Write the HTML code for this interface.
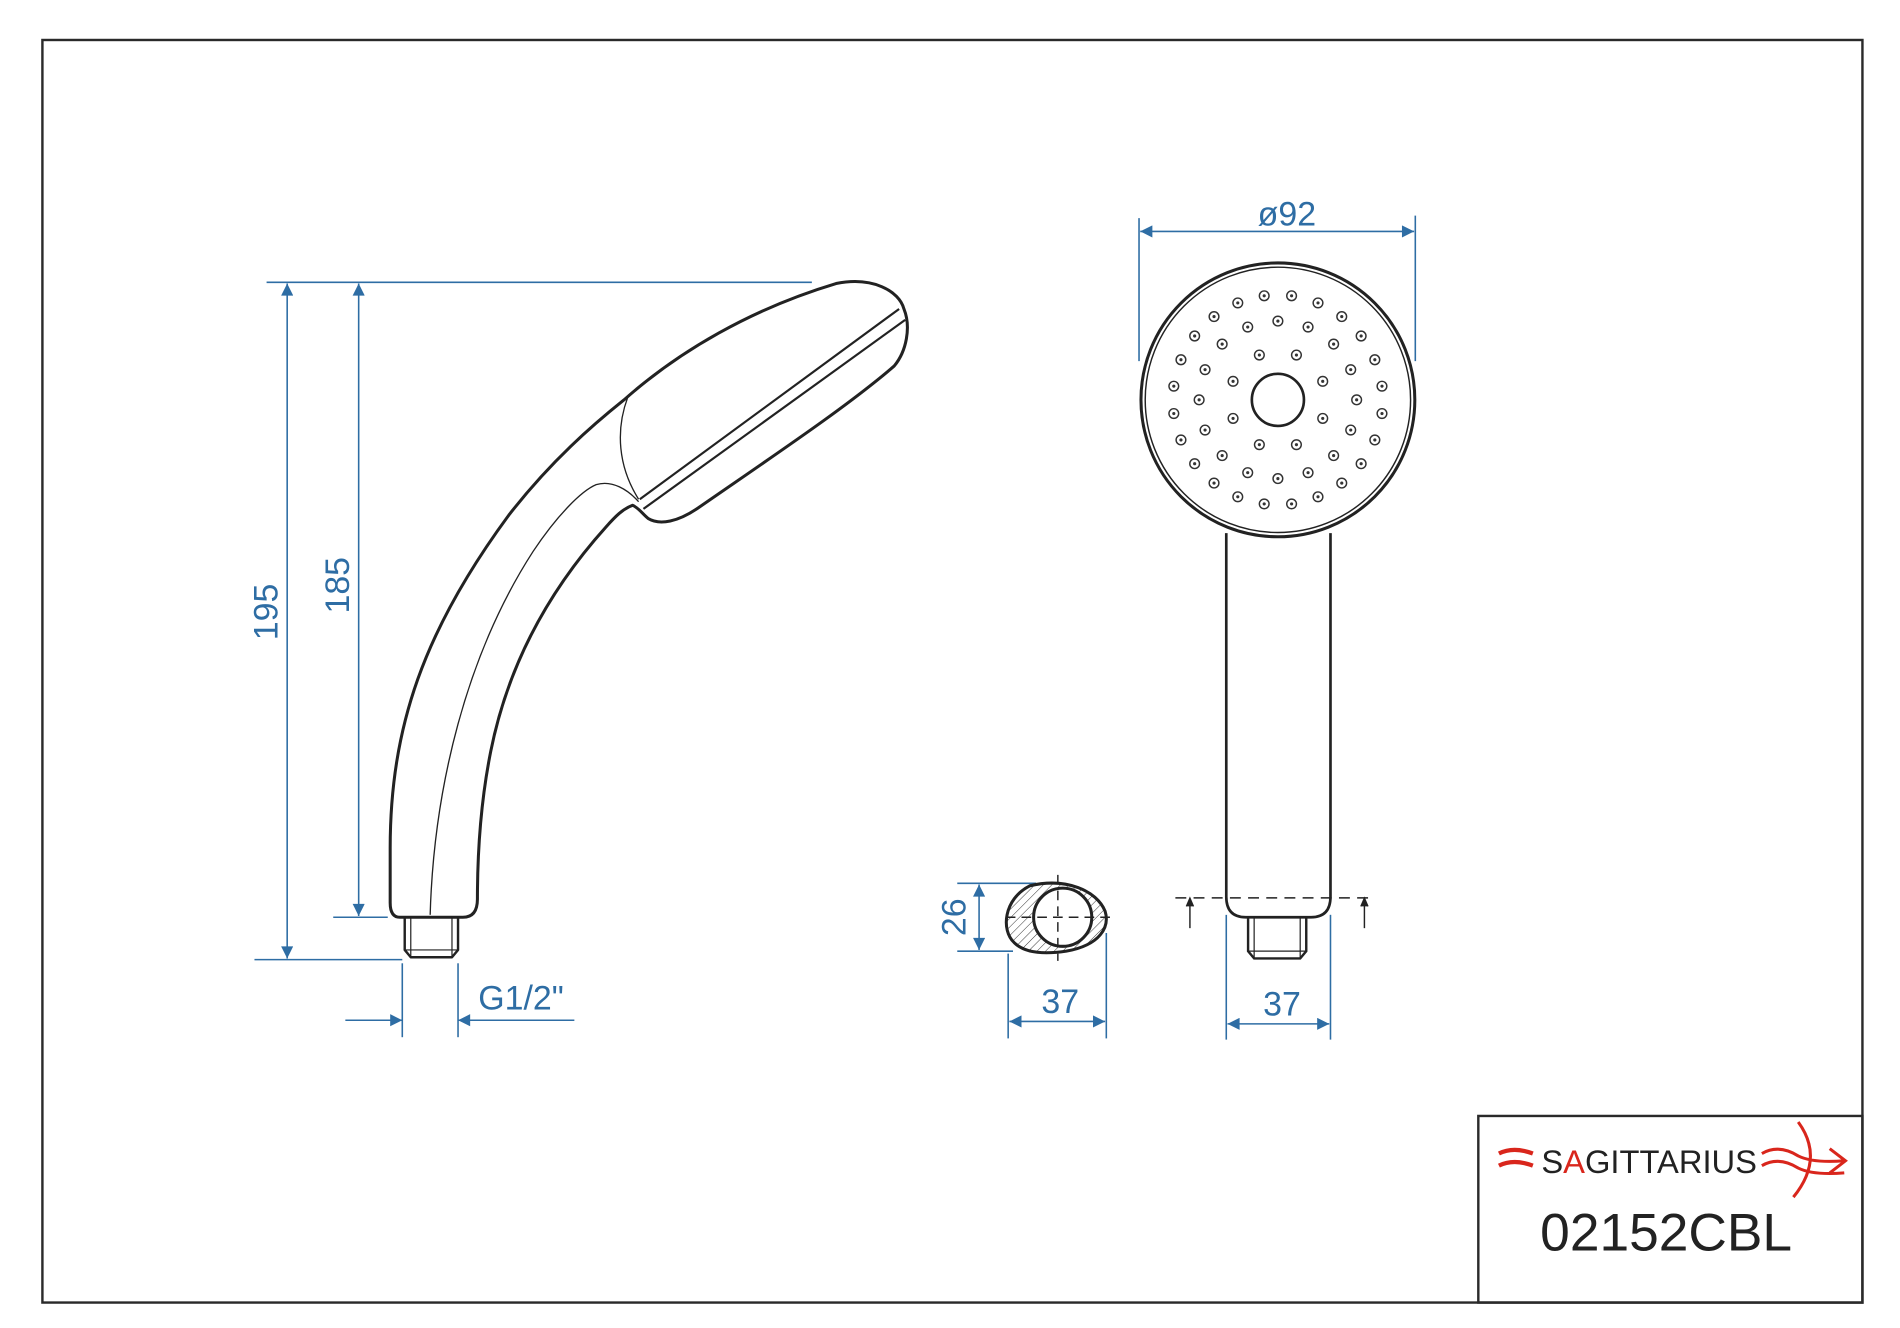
<!DOCTYPE html>
<html><head><meta charset="utf-8"><style>
html,body{margin:0;padding:0;background:#fff;}
svg{display:block;}
text{font-family:"Liberation Sans",sans-serif;}
</style></head><body>
<svg width="1900" height="1328" viewBox="0 0 1568 1096" preserveAspectRatio="none" xmlns="http://www.w3.org/2000/svg" xmlns:xlink="http://www.w3.org/1999/xlink">
<defs>
<marker id="a" viewBox="0 0 10 10" refX="10" refY="5" markerWidth="20" markerHeight="10" markerUnits="userSpaceOnUse" orient="auto-start-reverse"><path d="M0,0 L10,5 L0,10 z" fill="#2e6da4"/></marker>
<pattern id="h" width="5" height="5" patternUnits="userSpaceOnUse" patternTransform="rotate(45)"><line x1="0" y1="0" x2="0" y2="5" stroke="#333" stroke-width="0.8"/></pattern>
<g id="ho"><circle r="4" fill="none" stroke="#333" stroke-width="1.2"/><circle r="1.3" fill="#333"/></g>
</defs>
<rect x="35" y="33" width="1502" height="1042" fill="none" stroke="#2a2a2a" stroke-width="2"/>
<!-- title block -->
<rect x="1220" y="921" width="317" height="154" fill="none" stroke="#2a2a2a" stroke-width="2"/>
<text x="1272" y="968" font-size="27" fill="#222">S<tspan fill="#d9261c">A</tspan>GITTARIUS</text>
<path d="M1237,952 q12,-6 28,0 M1237,962 q12,-6 28,0" stroke="#d9261c" stroke-width="3.5" fill="none"/>
<path d="M1454,952 q14,-8 30,2 q12,6 38,4 M1454,962 q14,-8 30,2 q12,6 38,4 M1484,926 q22,30 -4,62 M1510,948 l13,10 l-13,10" stroke="#d9261c" stroke-width="2.5" fill="none"/>
<text x="1375" y="1032" font-size="44" fill="#222" text-anchor="middle">02152CBL</text>

<g stroke="#2e6da4" stroke-width="1.3" fill="none">
<line x1="220" y1="233" x2="670" y2="233"/>
<line x1="210" y1="792" x2="332" y2="792"/>
<line x1="275" y1="757" x2="320" y2="757"/>
<line x1="237" y1="234" x2="237" y2="791" marker-start="url(#a)" marker-end="url(#a)"/>
<line x1="296" y1="234" x2="296" y2="756" marker-start="url(#a)" marker-end="url(#a)"/>
<line x1="332" y1="795" x2="332" y2="856"/>
<line x1="378" y1="795" x2="378" y2="856"/>
<line x1="285" y1="842" x2="332" y2="842" marker-end="url(#a)"/>
<line x1="474" y1="842" x2="378" y2="842" marker-end="url(#a)"/>
<line x1="940" y1="180" x2="940" y2="298"/>
<line x1="1168" y1="178" x2="1168" y2="298"/>
<line x1="941" y1="191" x2="1167" y2="191" marker-start="url(#a)" marker-end="url(#a)"/>
<line x1="1012" y1="755" x2="1012" y2="858"/>
<line x1="1098" y1="755" x2="1098" y2="858"/>
<line x1="1013" y1="845" x2="1097" y2="845" marker-start="url(#a)" marker-end="url(#a)"/>
<line x1="790" y1="729" x2="855" y2="729"/>
<line x1="790" y1="785" x2="836" y2="785"/>
<line x1="808" y1="730" x2="808" y2="784" marker-start="url(#a)" marker-end="url(#a)"/>
<line x1="832" y1="787" x2="832" y2="857"/>
<line x1="913" y1="770" x2="913" y2="857"/>
<line x1="833" y1="843" x2="912" y2="843" marker-start="url(#a)" marker-end="url(#a)"/>
</g>
<g fill="#2e6da4" font-size="28">
<text x="229" y="505" text-anchor="middle" transform="rotate(-90 229 505)">195</text>
<text x="288" y="483" text-anchor="middle" transform="rotate(-90 288 483)">185</text>
<text x="430" y="833" text-anchor="middle">G1/2"</text>
<text x="1062" y="186" text-anchor="middle">ø92</text>
<text x="1058" y="838" text-anchor="middle">37</text>
<text x="875" y="836" text-anchor="middle">37</text>
<text x="797" y="757" text-anchor="middle" transform="rotate(-90 797 757)">26</text>
</g>

<g stroke="#222" stroke-width="2.5" fill="none" stroke-linejoin="round">
<path d="M330,757 Q322,757 322,745 L322,700 C322,600 350,520 420,425 C455,380 490,350 515,330 C560,290 620,255 690,234 C720,228 742,240 746,255 C752,270 748,290 738,302 C700,335 640,375 575,420 C560,430 545,434 535,428 C530,424 527,419 522,417 C514,420 508,426 500,435 C455,485 420,545 405,620 C396,665 394,710 394,742 Q394,757 382,757 Z"/>
<path d="M528,412 L742,255" stroke-width="1.8"/>
<path d="M531,420 L747,264" stroke-width="1.8"/>
<path d="M334,757 L334,784 L339,790 L373,790 L378,784 L378,757" stroke-width="2"/>
<path d="M339,757 L339,790 M373,757 L373,790 M334,784 L378,784" stroke-width="1"/>
</g>
<g stroke="#222" stroke-width="1.1" fill="none">
<path d="M355,755 C358,650 385,540 440,455 C460,425 480,405 492,400 C505,396 518,404 527,414"/>
<path d="M518,328 C508,355 510,385 527,412"/>
</g>

<g stroke="#222" fill="none">
<circle cx="1054.6" cy="330" r="113" stroke-width="2.5"/>
<circle cx="1054.6" cy="330" r="109.5" stroke-width="1.2"/>
<circle cx="1054.6" cy="330" r="21.5" stroke-width="2.2"/>
<path d="M1012,440 L1012,740 Q1012,757 1028,757 L1082,757 Q1098,757 1098,740 L1098,440" stroke-width="2.2"/>
<path d="M1030,757 L1030,785 L1035,791 L1073,791 L1078,785 L1078,757" stroke-width="2"/>
<path d="M1030,785 L1078,785 M1035,757 L1035,791 M1073,757 L1073,791" stroke-width="1"/>
<line x1="970" y1="741" x2="1130" y2="741" stroke-width="1.2" stroke-dasharray="9,6"/>
<line x1="982" y1="766" x2="982" y2="744" stroke-width="1.2"/>
<line x1="1126" y1="766" x2="1126" y2="744" stroke-width="1.2"/>
<path d="M979,748 L982,741 L985,748 M1123,748 L1126,741 L1129,748" fill="#222" stroke-width="1"/>
</g>
<g>
<use xlink:href="#ho" x="1140.5" y="341.3"/><use xlink:href="#ho" x="1140.5" y="318.7"/><use xlink:href="#ho" x="968.7" y="341.3"/><use xlink:href="#ho" x="968.7" y="318.7"/>
<use xlink:href="#ho" x="1134.6" y="363.1"/><use xlink:href="#ho" x="1134.6" y="296.9"/><use xlink:href="#ho" x="974.6" y="363.1"/><use xlink:href="#ho" x="974.6" y="296.9"/>
<use xlink:href="#ho" x="1123.3" y="382.7"/><use xlink:href="#ho" x="1123.3" y="277.3"/><use xlink:href="#ho" x="985.9" y="382.7"/><use xlink:href="#ho" x="985.9" y="277.3"/>
<use xlink:href="#ho" x="1107.3" y="398.7"/><use xlink:href="#ho" x="1107.3" y="261.3"/><use xlink:href="#ho" x="1001.9" y="398.7"/><use xlink:href="#ho" x="1001.9" y="261.3"/>
<use xlink:href="#ho" x="1087.7" y="410"/><use xlink:href="#ho" x="1087.7" y="250"/><use xlink:href="#ho" x="1021.5" y="410"/><use xlink:href="#ho" x="1021.5" y="250"/>
<use xlink:href="#ho" x="1065.9" y="415.9"/><use xlink:href="#ho" x="1065.9" y="244.1"/><use xlink:href="#ho" x="1043.3" y="415.9"/><use xlink:href="#ho" x="1043.3" y="244.1"/>
<use xlink:href="#ho" x="1119.6" y="330"/><use xlink:href="#ho" x="989.6" y="330"/>
<use xlink:href="#ho" x="1114.7" y="354.9"/><use xlink:href="#ho" x="1114.7" y="305.1"/><use xlink:href="#ho" x="994.5" y="354.9"/><use xlink:href="#ho" x="994.5" y="305.1"/>
<use xlink:href="#ho" x="1100.6" y="376"/><use xlink:href="#ho" x="1100.6" y="284"/><use xlink:href="#ho" x="1008.6" y="376"/><use xlink:href="#ho" x="1008.6" y="284"/>
<use xlink:href="#ho" x="1079.5" y="390.1"/><use xlink:href="#ho" x="1079.5" y="269.9"/><use xlink:href="#ho" x="1029.7" y="390.1"/><use xlink:href="#ho" x="1029.7" y="269.9"/>
<use xlink:href="#ho" x="1054.6" y="395"/><use xlink:href="#ho" x="1054.6" y="265"/>
<use xlink:href="#ho" x="1091.6" y="345.3"/><use xlink:href="#ho" x="1091.6" y="314.7"/><use xlink:href="#ho" x="1017.6" y="345.3"/><use xlink:href="#ho" x="1017.6" y="314.7"/>
<use xlink:href="#ho" x="1069.9" y="367"/><use xlink:href="#ho" x="1069.9" y="293"/><use xlink:href="#ho" x="1039.3" y="367"/><use xlink:href="#ho" x="1039.3" y="293"/>
</g>

<g stroke="#222" fill="none">
<path d="M850,731 C880,724 905,735 912,752 C916,765 908,780 880,785 C860,788 845,786 837,778 C826,768 828,742 850,731 Z" fill="url(#h)" stroke-width="2.5"/>
<circle cx="877" cy="757" r="24" fill="#fff" stroke-width="2.5"/>
<line x1="873" y1="722" x2="873" y2="793" stroke-width="1.2" stroke-dasharray="8,5"/>
<line x1="830" y1="757" x2="917" y2="757" stroke-width="1.2" stroke-dasharray="8,5"/>
</g>
</svg>
</body></html>
